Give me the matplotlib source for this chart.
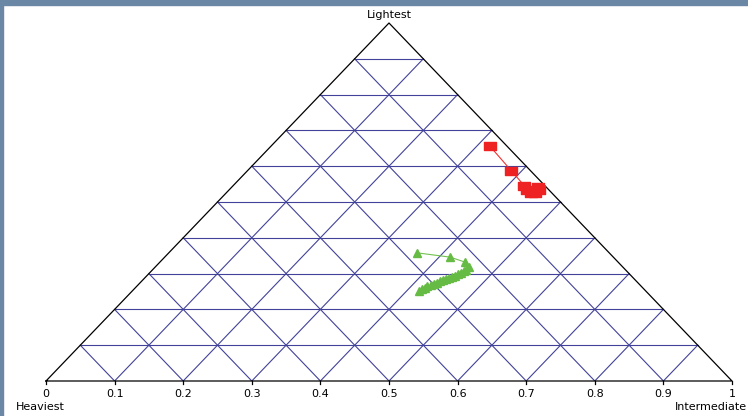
import matplotlib
matplotlib.use("Agg")
import matplotlib.pyplot as plt
import numpy as np
from matplotlib.patches import Rectangle
from matplotlib.path import Path

plt.rcParams["font.family"] = ["DejaVu Sans"]

# ternary fractions (heaviest, intermediate, lightest)
red_intermediate = [0.319, 0.385, 0.425, 0.434, 0.445, 0.451, 0.452, 0.446]
red_lightest = [0.656, 0.587, 0.545, 0.534, 0.525, 0.525, 0.534, 0.542]

green_intermediate = [0.362, 0.416, 0.445, 0.458, 0.457, 0.456, 0.454, 0.452,
                      0.450, 0.447, 0.443, 0.440, 0.438, 0.435, 0.433, 0.430,
                      0.427, 0.424, 0.422, 0.420, 0.418]
green_lightest = [0.358, 0.346, 0.332, 0.318, 0.310, 0.306, 0.302, 0.298,
                  0.293, 0.290, 0.288, 0.285, 0.282, 0.278, 0.274, 0.271,
                  0.268, 0.264, 0.260, 0.256, 0.251]

tick_values = [0, 0.1, 0.2, 0.3, 0.4, 0.5, 0.6, 0.7, 0.8, 0.9, 1]
tick_labels = ["0", "0.1", "0.2", "0.3", "0.4", "0.5", "0.6", "0.7", "0.8", "0.9", "1"]

W, H = 748, 416
fig = plt.figure(figsize=(W / 100, H / 100), dpi=100)
ax = fig.add_axes([46 / W, (H - 381) / H, 686 / W, 358 / H])
ax.set_xlim(0, 1)
ax.set_ylim(0, 1)
ax.axis("off")


def to_xy(inter, light):
    inter = np.asarray(inter)
    light = np.asarray(light)
    return inter + light / 2, light


grid_kw = dict(color="#42429a", lw=0.8, zorder=1)
for f in np.arange(1, 10) / 10:
    # constant lightest
    ax.plot([f / 2, 1 - f / 2], [f, f], **grid_kw)
    # constant intermediate
    ax.plot([f, f + (1 - f) / 2], [0, 1 - f], **grid_kw)
    # constant heaviest
    ax.plot([f, f / 2], [0, f], **grid_kw)

ax.plot([0, 1, 0.5, 0], [0, 0, 1, 0], color="black", lw=0.9, zorder=2,
        clip_on=False)

fs = 8
tick_len = 3 / 358
for v, lab in zip(tick_values, tick_labels):
    ax.plot([v, v], [0, -tick_len], color="black", lw=0.9, clip_on=False)
    ax.text(v, -13 / 358, lab, ha="center", va="center", fontsize=fs,
            clip_on=False)

ax.text(0.5, 1 + 8 / 358, "Lightest", ha="center", va="center", fontsize=fs)
ax.text(-30 / 686, -26 / 358, "Heaviest", ha="left", va="center", fontsize=fs)
ax.text(1 + 15 / 686, -26 / 358, "Intermediate", ha="right", va="center",
        fontsize=fs)

# wide rectangle marker for the red series
rect = Path([(-0.75, -0.5), (0.75, -0.5), (0.75, 0.5), (-0.75, 0.5), (-0.75, -0.5)],
            [Path.MOVETO, Path.LINETO, Path.LINETO, Path.LINETO, Path.CLOSEPOLY])

rx, ry = to_xy(red_intermediate, red_lightest)
ax.plot(rx, ry, color="#ee3333", lw=0.8, zorder=3)
ax.plot(rx, ry, ls="none", marker=rect, ms=8, color="#ee2222", mec="#ee2222",
        zorder=4)

gx, gy = to_xy(green_intermediate, green_lightest)
ax.plot(gx, gy, color="#72c250", lw=0.8, zorder=3)
ax.plot(gx, gy, ls="none", marker="^", ms=6, color="#66bb44", mec="#66bb44",
        zorder=4)

# frame strips along the top and left edges
frame = "#6a88a6"
fig.patches.append(Rectangle((0, 1 - 5 / H), 1, 5 / H, transform=fig.transFigure,
                             color=frame, zorder=10))
fig.patches.append(Rectangle((0, 0), 3 / W, 1, transform=fig.transFigure,
                             color=frame, zorder=10))

fig.savefig("out.png", dpi=100)
